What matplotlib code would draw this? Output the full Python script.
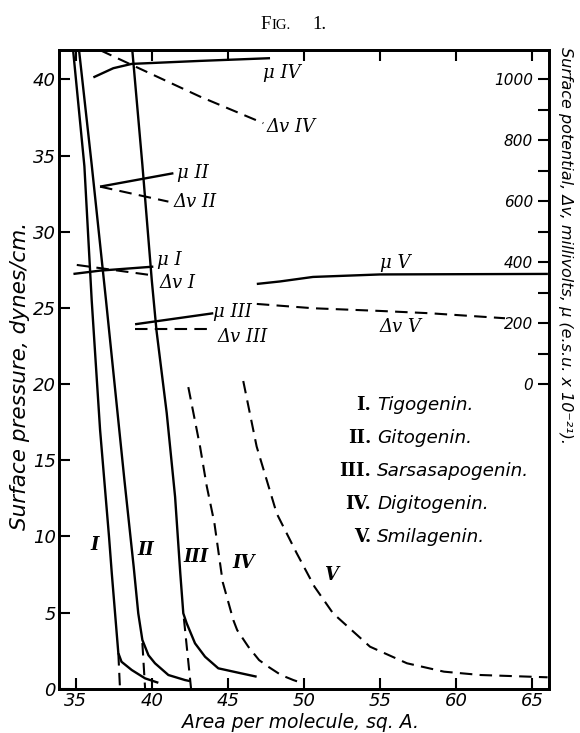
import matplotlib
matplotlib.use('Agg')
import matplotlib.pyplot as plt
from matplotlib.ticker import FixedLocator

# ---------------- data (area in sq. A, pressure in dynes/cm) ----------------
I_area = [34.82, 35.56, 36.04, 36.59, 37.18, 37.36, 37.79, 38.0, 38.67, 39.55, 40.42]
I_pres = [41.9, 34.3, 25.5, 17.0, 9.96, 7.58, 2.34, 1.77, 1.23, 0.68, 0.39]
I_ext_area = [37.79, 37.9]
I_ext_pres = [2.34, 0.0]

II_area = [35.21, 36.04, 36.98, 38.19, 38.8, 39.1, 39.37, 39.77, 40.2, 41.08, 42.17, 42.5]
II_pres = [41.9, 34.4, 25.5, 13.7, 8.0, 4.95, 3.2, 2.2, 1.67, 0.9, 0.57, 0.5]
II_ext_area = [39.37, 39.55]
II_ext_pres = [3.0, 0.0]

III_area = [38.71, 39.37, 39.99, 40.3, 40.97, 41.52, 41.86, 42.06, 42.28, 42.83, 43.49, 44.36, 45.68, 46.88]
III_pres = [41.9, 34.4, 26.8, 23.5, 18.1, 12.6, 7.6, 4.95, 4.3, 2.98, 2.1, 1.34, 1.05, 0.79]
III_ext_area = [42.1, 42.57]
III_ext_pres = [4.6, 0.0]

IV_area = [42.39, 43.16, 43.6, 44.1, 44.65, 45.35, 45.6, 46.33, 47.04, 47.65, 48.48, 49.29, 49.93]
IV_pres = [19.8, 15.9, 13.3, 10.9, 7.0, 4.5, 3.85, 2.76, 1.88, 1.44, 0.9, 0.57, 0.35]

V_area = [46.0, 46.88, 48.2, 49.51, 50.68, 51.9, 54.33, 56.76, 59.19, 61.6, 66.0]
V_pres = [20.2, 15.9, 11.5, 8.9, 6.7, 4.95, 2.76, 1.67, 1.12, 0.9, 0.75]

# surface potential (millivolts) / dipole (e.s.u. x 10^-21) curves
muIV_area = [36.15, 37.46, 38.67, 43.16, 47.76]
muIV_val = [1006.6, 1036.7, 1050.9, 1060.7, 1069.6]
dvIV_area = [36.59, 38.67, 43.16, 47.32]
dvIV_val = [1096.0, 1047.6, 943.5, 856.2]
muII_area = [36.59, 41.41]
muII_val = [648.0, 692.0]
dvII_area = [36.59, 41.08]
dvII_val = [648.0, 598.8]
muI_area = [34.84, 36.59, 40.09]
muI_val = [361.5, 372.3, 385.4]
dvI_area = [35.06, 39.88]
dvI_val = [391.0, 358.0]
muIII_area = [38.89, 44.03]
muIII_val = [196.3, 232.4]
dvIII_area = [38.89, 44.03]
dvIII_val = [180.0, 180.0]
muV_area = [46.89, 48.42, 50.58, 54.99, 66.02]
muV_val = [328.6, 336.8, 351.6, 359.8, 361.5]
dvV_area = [46.89, 50.6, 54.99, 58.27, 63.2]
dvV_val = [263.0, 248.8, 240.0, 232.4, 216.0]

x_ticks = [35, 40, 45, 50, 55, 60, 65]
y_ticks = [0, 5, 10, 15, 20, 25, 30, 35, 40]
r_ticks = [0, 200, 400, 600, 800, 1000]
r_minor = [100, 300, 500, 700, 900, 1100]

legend_nums = ["I.", "II.", "III.", "IV.", "V."]
legend_names = ["Tigogenin.", "Gitogenin.", "Sarsasapogenin.", "Digitogenin.", "Smilagenin."]

# ---------------- figure ----------------
fig = plt.figure(figsize=(5.8, 7.33), dpi=100)
ax = fig.add_axes([0.1009, 0.0604, 0.8448, 0.8714])
ax.set_xlim(33.86, 66.06)
ax.set_ylim(0, 41.93)
ax2 = ax.twinx()
ax2.set_ylim(-1000, 1096.5)

solid = dict(color='black', lw=1.7, solid_capstyle='butt', solid_joinstyle='round')
dashed = dict(color='black', lw=1.5, dashes=(6, 3.5))

ax.plot(I_area, I_pres, **solid)
ax.plot(II_area, II_pres, **solid)
ax.plot(III_area, III_pres, **solid)
ax.plot(I_ext_area, I_ext_pres, **dashed)
ax.plot(II_ext_area, II_ext_pres, **dashed)
ax.plot(III_ext_area, III_ext_pres, **dashed)
ax.plot(IV_area, IV_pres, **dashed)
ax.plot(V_area, V_pres, **dashed)

ax2.plot(muIV_area, muIV_val, **solid)
ax2.plot(dvIV_area, dvIV_val, **dashed)
ax2.plot(muII_area, muII_val, **solid)
ax2.plot(dvII_area, dvII_val, **dashed)
ax2.plot(muI_area, muI_val, **solid)
ax2.plot(dvI_area, dvI_val, **dashed)
ax2.plot(muIII_area, muIII_val, **solid)
ax2.plot(dvIII_area, dvIII_val, **dashed)
ax2.plot(muV_area, muV_val, **solid)
ax2.plot(dvV_area, dvV_val, **dashed)

lab = dict(family='DejaVu Serif', style='italic', fontsize=13, ha='left', va='center')
ax2.text(47.3, 1021, "μ IV", **lab)
ax2.text(47.54, 845, "Δv IV", **lab)
ax2.text(41.65, 693, "μ II", **lab)
ax2.text(41.39, 598, "Δv II", **lab)
ax2.text(40.33, 407, "μ I", **lab)
ax2.text(40.53, 332, "Δv I", **lab)
ax2.text(44.02, 237, "μ III", **lab)
ax2.text(44.28, 155, "Δv III", **lab)
ax2.text(54.99, 398, "μ V", **lab)
ax2.text(54.99, 188, "Δv V", **lab)

cl = dict(family='DejaVu Serif', style='italic', weight='bold', fontsize=13, ha='center', va='center')
ax.text(36.26, 9.43, "I", **cl)
ax.text(39.6, 9.1, "II", **cl)
ax.text(42.9, 8.67, "III", **cl)
ax.text(46.0, 8.25, "IV", **cl)
ax.text(51.77, 7.45, "V", **cl)

leg_y = [18.63, 16.46, 14.30, 12.13, 9.98]
for n, name, yy in zip(legend_nums, legend_names, leg_y):
    ax.text(54.4, yy, n, family='DejaVu Serif', weight='bold', fontsize=13,
            ha='right', va='center')
    ax.text(54.8, yy, name, family='DejaVu Sans', style='italic', fontsize=13.2,
            ha='left', va='center')

# ticks
ax.set_xticks(x_ticks, labels=[str(t) for t in x_ticks], fontstyle='italic', fontsize=13)
ax.set_yticks(y_ticks, labels=[str(t) for t in y_ticks], fontstyle='italic', fontsize=13)
ax.tick_params(axis='both', direction='in', length=8, width=1.5, top=True, right=False)
ax.tick_params(axis='x', pad=2)
ax.tick_params(axis='y', pad=2)

ax2.yaxis.set_major_locator(FixedLocator(r_ticks))
ax2.yaxis.set_minor_locator(FixedLocator(r_minor))
ax2.set_yticklabels([str(t) for t in r_ticks], fontstyle='italic', fontsize=11)
ax2.tick_params(axis='y', which='both', direction='in', length=8, width=1.5, pad=-11)
for t in ax2.get_yticklabels():
    t.set_horizontalalignment('right')

for a in (ax, ax2):
    for s in a.spines.values():
        s.set_linewidth(2)

ax.set_xlabel("Area per molecule, sq. A.", fontstyle='italic', fontsize=13.5, va='center')
ax.xaxis.set_label_coords(0.493, -0.053)
ax.set_ylabel("Surface pressure, dynes/cm.", fontstyle='italic', fontsize=15.5, va='center')
ax.yaxis.set_label_coords(-0.0786, 0.489)
ax2.set_ylabel("Surface potential, Δv, millivolts, μ (e.s.u. x 10⁻²¹).",
               fontstyle='italic', fontsize=11.5, rotation=270, va='center')
ax2.yaxis.set_label_coords(1.0337, 0.694)

fig.text(260 / 580, 1 - 29 / 733, "F", family='Liberation Serif', fontsize=13.5, va='baseline')
fig.text(271 / 580, 1 - 29 / 733, "IG.", family='Liberation Serif', fontsize=10.5, va='baseline')
fig.text(312 / 580, 1 - 29 / 733, "1.", family='Liberation Serif', fontsize=13.5, va='baseline')

fig.savefig('out.png', dpi=100)
